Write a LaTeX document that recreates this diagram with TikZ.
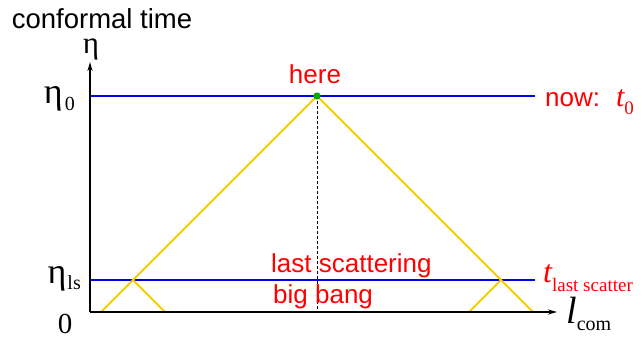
\documentclass[tikz,border=0pt]{standalone}
\usepackage{fontspec}
\setmainfont{Liberation Serif}
\newfontfamily\arialf{Liberation Sans}
\usetikzlibrary{arrows.meta}
\definecolor{blueline}{RGB}{0,0,230}
\definecolor{yel}{RGB}{250,205,0}
\definecolor{redtext}{RGB}{255,0,0}
\definecolor{dotgreen}{RGB}{0,170,0}
\tikzset{
  axisline/.style={line width=1.9pt,-{Stealth[length=9pt,width=5pt]}},
  epochline/.style={blueline,line width=1.3pt},
  lightcone/.style={yel,line width=1.8pt},
  sanslbl/.style={inner sep=0pt,anchor=base,font=\arialf\fontsize{26}{28}\selectfont},
  redlbl/.style={sanslbl,text=redtext},
  seriflbl/.style={inner sep=0pt,anchor=base}
}
\begin{document}
\begin{tikzpicture}[x=1pt,y=-1pt]
\useasboundingbox (0,0) rectangle (642,338);
% coordinates
\coordinate (origin) at (90,312);
\coordinate (ytip) at (90,62);
\coordinate (xtip) at (557,312);
\coordinate (nowL) at (91,96);
\coordinate (nowR) at (535,96);
\coordinate (lsL) at (91,280);
\coordinate (lsR) at (535,280);
\coordinate (apex) at (317,96);
\coordinate (footL) at (101,312);
\coordinate (footR) at (533,312);
\coordinate (crossL) at (133,280);
\coordinate (crossR) at (501,280);
\coordinate (smallLr) at (165,312);
\coordinate (smallRl) at (469,312);
\coordinate (dotbot) at (317,312);
% epoch lines
\draw[epochline] (nowL) -- (nowR);
\draw[epochline] (lsL) -- (lsR);
% light cones
\draw[lightcone] (footL) -- (apex) -- (footR);
\draw[lightcone] (crossL) -- (smallLr);
\draw[lightcone] (smallRl) -- (crossR);
% dotted vertical
\draw[black,line width=1pt,dash pattern=on 3pt off 2pt] (apex) -- (dotbot);
% axes
\draw[axisline] (origin) -- (ytip);
\draw[axisline] (origin) -- (xtip);
% green dot
\fill[dotgreen] (apex) circle (3.6pt);
% labels
\node[sanslbl,font=\arialf\fontsize{27.5}{29}\selectfont] (ctime) at (102,28) {conformal time};
\node[seriflbl,font=\fontsize{31}{33}\selectfont,text height=14pt,text depth=8pt] (eta) at (91,53) {η};
\node[seriflbl,anchor=base east,font=\fontsize{36}{38}\selectfont] (eta0) at (75,103) {η\hspace{2pt}\raisebox{-7pt}{\fontsize{20}{22}\selectfont 0}};
\node[seriflbl,anchor=base east,font=\fontsize{36}{38}\selectfont] (etals) at (81,283) {η\hspace{1pt}\raisebox{-6pt}{\fontsize{20}{22}\selectfont ls}};
\node[seriflbl,font=\fontsize{29}{31}\selectfont] (zero) at (65,333) {0};
\node[seriflbl,anchor=base west,font=\fontsize{38}{40}\selectfont] (lcom) at (566,323) {\itshape l\upshape\raisebox{-7pt}{\fontsize{20}{22}\selectfont com}};
\node[redlbl] (here) at (315,83) {here};
\node[redlbl,anchor=base west] (lastsc) at (271,272) {last scattering};
\node[redlbl,anchor=base west] (bigbang) at (273,303) {big bang};
\node[redlbl,anchor=base west] (now) at (545,106) {now:\hspace{16pt}{\rmfamily\itshape\fontsize{30}{32}\selectfont t}{\rmfamily\fontsize{19}{21}\selectfont\raisebox{-8pt}{0}}};
\node[seriflbl,anchor=base west,text=redtext] (tls) at (543,282) {{\itshape\fontsize{32}{34}\selectfont t}\raisebox{-9pt}{\fontsize{19}{21}\selectfont last scatter}};
\end{tikzpicture}
\end{document}
